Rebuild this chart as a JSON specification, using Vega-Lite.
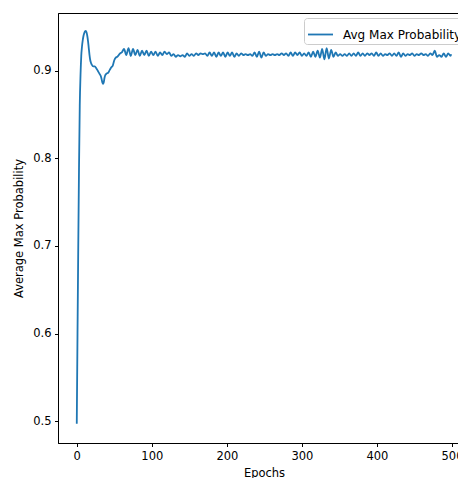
{
  "$schema": "https://vega.github.io/schema/vega-lite/v6.json",
  "width": 412,
  "height": 430,
  "autosize": {"type": "none"},
  "padding": {"left": 58, "top": 13, "right": 0, "bottom": 35},
  "background": "white",
  "config": {
    "font": "DejaVu Sans",
    "view": {"stroke": "#000", "strokeWidth": 1},
    "axis": {
      "grid": false,
      "domainColor": "#000",
      "tickColor": "#000",
      "tickSize": 3.5,
      "labelPadding": 3.5,
      "labelFontSize": 11.5,
      "labelColor": "#000",
      "titleFontSize": 11.5,
      "titleFontWeight": "normal",
      "titleColor": "#000"
    }
  },
  "data": {
    "values": [
      {"epoch": 0, "p": 0.497}, {"epoch": 1, "p": 0.6}, {"epoch": 2, "p": 0.7}, {"epoch": 3, "p": 0.79},
      {"epoch": 4, "p": 0.86}, {"epoch": 5, "p": 0.895}, {"epoch": 6, "p": 0.917}, {"epoch": 7, "p": 0.928},
      {"epoch": 8, "p": 0.935}, {"epoch": 9, "p": 0.94}, {"epoch": 10, "p": 0.943}, {"epoch": 11, "p": 0.945},
      {"epoch": 12, "p": 0.9455}, {"epoch": 13, "p": 0.944}, {"epoch": 14, "p": 0.94}, {"epoch": 15, "p": 0.934},
      {"epoch": 16, "p": 0.926}, {"epoch": 17, "p": 0.918}, {"epoch": 18, "p": 0.912}, {"epoch": 19, "p": 0.909},
      {"epoch": 20, "p": 0.907}, {"epoch": 22, "p": 0.905}, {"epoch": 24, "p": 0.905}, {"epoch": 26, "p": 0.903},
      {"epoch": 28, "p": 0.9}, {"epoch": 30, "p": 0.897}, {"epoch": 32, "p": 0.894}, {"epoch": 33, "p": 0.891},
      {"epoch": 34, "p": 0.887}, {"epoch": 35, "p": 0.885}, {"epoch": 36, "p": 0.887}, {"epoch": 37, "p": 0.892},
      {"epoch": 38, "p": 0.895}, {"epoch": 40, "p": 0.897}, {"epoch": 42, "p": 0.898}, {"epoch": 44, "p": 0.901},
      {"epoch": 46, "p": 0.904}, {"epoch": 48, "p": 0.906}, {"epoch": 50, "p": 0.912}, {"epoch": 52, "p": 0.915},
      {"epoch": 54, "p": 0.916}, {"epoch": 56, "p": 0.918}, {"epoch": 58, "p": 0.92}, {"epoch": 60, "p": 0.921},
      {"epoch": 63, "p": 0.925}, {"epoch": 66, "p": 0.918}, {"epoch": 69, "p": 0.926}, {"epoch": 72, "p": 0.917},
      {"epoch": 75, "p": 0.925}, {"epoch": 78, "p": 0.918}, {"epoch": 81, "p": 0.924}, {"epoch": 84, "p": 0.917},
      {"epoch": 87, "p": 0.923}, {"epoch": 90, "p": 0.918}, {"epoch": 93, "p": 0.923}, {"epoch": 96, "p": 0.917},
      {"epoch": 99, "p": 0.922}, {"epoch": 102, "p": 0.918}, {"epoch": 105, "p": 0.922}, {"epoch": 108, "p": 0.917},
      {"epoch": 111, "p": 0.921}, {"epoch": 114, "p": 0.918}, {"epoch": 117, "p": 0.922}, {"epoch": 120, "p": 0.919},
      {"epoch": 123, "p": 0.921}, {"epoch": 126, "p": 0.917}, {"epoch": 129, "p": 0.919}, {"epoch": 132, "p": 0.916},
      {"epoch": 135, "p": 0.918}, {"epoch": 138, "p": 0.9165}, {"epoch": 141, "p": 0.918}, {"epoch": 144, "p": 0.916},
      {"epoch": 147, "p": 0.92}, {"epoch": 150, "p": 0.917}, {"epoch": 153, "p": 0.919}, {"epoch": 156, "p": 0.917},
      {"epoch": 159, "p": 0.92}, {"epoch": 162, "p": 0.918}, {"epoch": 165, "p": 0.92}, {"epoch": 168, "p": 0.919},
      {"epoch": 171, "p": 0.92}, {"epoch": 174, "p": 0.917}, {"epoch": 177, "p": 0.921}, {"epoch": 180, "p": 0.917},
      {"epoch": 183, "p": 0.921}, {"epoch": 186, "p": 0.916}, {"epoch": 189, "p": 0.921}, {"epoch": 192, "p": 0.917},
      {"epoch": 195, "p": 0.921}, {"epoch": 198, "p": 0.916}, {"epoch": 201, "p": 0.921}, {"epoch": 204, "p": 0.917},
      {"epoch": 207, "p": 0.921}, {"epoch": 210, "p": 0.916}, {"epoch": 213, "p": 0.92}, {"epoch": 216, "p": 0.917},
      {"epoch": 219, "p": 0.92}, {"epoch": 222, "p": 0.918}, {"epoch": 225, "p": 0.919}, {"epoch": 228, "p": 0.918},
      {"epoch": 231, "p": 0.919}, {"epoch": 234, "p": 0.917}, {"epoch": 237, "p": 0.921}, {"epoch": 240, "p": 0.916},
      {"epoch": 243, "p": 0.922}, {"epoch": 246, "p": 0.915}, {"epoch": 249, "p": 0.921}, {"epoch": 252, "p": 0.917},
      {"epoch": 255, "p": 0.919}, {"epoch": 258, "p": 0.918}, {"epoch": 261, "p": 0.919}, {"epoch": 264, "p": 0.918},
      {"epoch": 267, "p": 0.919}, {"epoch": 270, "p": 0.918}, {"epoch": 273, "p": 0.92}, {"epoch": 276, "p": 0.918},
      {"epoch": 279, "p": 0.92}, {"epoch": 282, "p": 0.917}, {"epoch": 285, "p": 0.921}, {"epoch": 288, "p": 0.917},
      {"epoch": 291, "p": 0.921}, {"epoch": 294, "p": 0.918}, {"epoch": 297, "p": 0.921}, {"epoch": 300, "p": 0.917},
      {"epoch": 303, "p": 0.92}, {"epoch": 306, "p": 0.917}, {"epoch": 309, "p": 0.921}, {"epoch": 312, "p": 0.916},
      {"epoch": 315, "p": 0.922}, {"epoch": 318, "p": 0.916}, {"epoch": 321, "p": 0.923}, {"epoch": 324, "p": 0.915},
      {"epoch": 327, "p": 0.925}, {"epoch": 330, "p": 0.913}, {"epoch": 333, "p": 0.926}, {"epoch": 336, "p": 0.914},
      {"epoch": 339, "p": 0.924}, {"epoch": 342, "p": 0.916}, {"epoch": 345, "p": 0.921}, {"epoch": 348, "p": 0.917},
      {"epoch": 351, "p": 0.919}, {"epoch": 354, "p": 0.917}, {"epoch": 357, "p": 0.919}, {"epoch": 360, "p": 0.917},
      {"epoch": 363, "p": 0.92}, {"epoch": 366, "p": 0.917}, {"epoch": 369, "p": 0.92}, {"epoch": 372, "p": 0.917},
      {"epoch": 375, "p": 0.921}, {"epoch": 378, "p": 0.917}, {"epoch": 381, "p": 0.92}, {"epoch": 384, "p": 0.917},
      {"epoch": 387, "p": 0.92}, {"epoch": 390, "p": 0.918}, {"epoch": 393, "p": 0.92}, {"epoch": 396, "p": 0.917},
      {"epoch": 399, "p": 0.921}, {"epoch": 402, "p": 0.917}, {"epoch": 405, "p": 0.92}, {"epoch": 408, "p": 0.917},
      {"epoch": 411, "p": 0.919}, {"epoch": 414, "p": 0.918}, {"epoch": 417, "p": 0.92}, {"epoch": 420, "p": 0.917},
      {"epoch": 423, "p": 0.92}, {"epoch": 426, "p": 0.917}, {"epoch": 429, "p": 0.921}, {"epoch": 432, "p": 0.916},
      {"epoch": 435, "p": 0.92}, {"epoch": 438, "p": 0.917}, {"epoch": 441, "p": 0.919}, {"epoch": 444, "p": 0.918},
      {"epoch": 447, "p": 0.92}, {"epoch": 450, "p": 0.917}, {"epoch": 453, "p": 0.919}, {"epoch": 456, "p": 0.918},
      {"epoch": 459, "p": 0.92}, {"epoch": 462, "p": 0.918}, {"epoch": 465, "p": 0.919}, {"epoch": 468, "p": 0.917},
      {"epoch": 471, "p": 0.92}, {"epoch": 474, "p": 0.918}, {"epoch": 477, "p": 0.923}, {"epoch": 480, "p": 0.916},
      {"epoch": 483, "p": 0.918}, {"epoch": 486, "p": 0.916}, {"epoch": 489, "p": 0.92}, {"epoch": 492, "p": 0.916},
      {"epoch": 495, "p": 0.92}, {"epoch": 498, "p": 0.917}, {"epoch": 499, "p": 0.919}
    ]
  },
  "transform": [{"calculate": "'Avg Max Probability'", "as": "series"}],
  "mark": {"type": "line", "strokeWidth": 1.8, "clip": true, "interpolate": "monotone"},
  "encoding": {
    "x": {
      "field": "epoch", "type": "quantitative",
      "scale": {"domain": [-25, 524], "nice": false, "zero": false},
      "axis": {"values": [0, 100, 200, 300, 400, 500], "title": "Epochs", "titlePadding": 6}
    },
    "y": {
      "field": "p", "type": "quantitative",
      "scale": {"domain": [0.475, 0.966], "nice": false, "zero": false},
      "axis": {"values": [0.5, 0.6, 0.7, 0.8, 0.9], "format": ".1f", "title": "Average Max Probability", "titlePadding": 8}
    },
    "color": {
      "field": "series", "type": "nominal",
      "scale": {"range": ["#1f77b4"]},
      "legend": {
        "title": null,
        "orient": "top-right",
        "offset": 5,
        "symbolType": "stroke",
        "symbolSize": 625,
        "symbolStrokeWidth": 1.8,
        "labelFontSize": 12,
        "labelColor": "#000",
        "labelOffset": 9,
        "padding": 3,
        "fillColor": "white",
        "strokeColor": "#cccccc",
        "cornerRadius": 3
      }
    }
  }
}
